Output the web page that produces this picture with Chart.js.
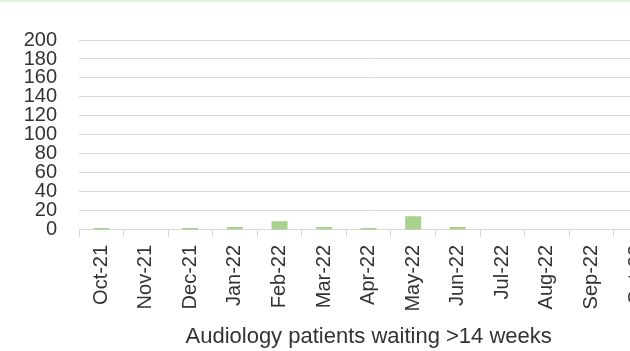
<!DOCTYPE html>
<html>
<head>
<meta charset="utf-8">
<script src="https://cdn.jsdelivr.net/npm/chart.js@4"></script>
<style>
  html, body { margin: 0; padding: 0; overflow: hidden; background: #fff; }
  .topLine { position: absolute; left: 0; top: 0; width: 630px; height: 2px; background: #e2efda; z-index: 2; }
  .wrap { position: relative; width: 668px; height: 351px; }
</style>
</head>
<body>
<div class="topLine"></div>
<div class="wrap"><canvas id="audiologyChart"></canvas></div>
<script>
const months = [
  "Oct-21", "Nov-21", "Dec-21", "Jan-22", "Feb-22", "Mar-22", "Apr-22",
  "May-22", "Jun-22", "Jul-22", "Aug-22", "Sep-22", "Oct-22",
];
const waitingOver14 = [2, 0, 2, 3, 9, 3, 2, 14.5, 3, 0, 0, 0, 0];
const yTicks = [0, 20, 40, 60, 80, 100, 120, 140, 160, 180, 200];

const tickFont = { family: "'Liberation Sans', Arial, sans-serif", size: 20 };
const titleFont = { family: "'Liberation Sans', Arial, sans-serif", size: 22 };

document.addEventListener("DOMContentLoaded", function () {
  const ctx = document.getElementById("audiologyChart");

  new Chart(ctx, {
    type: "bar",
    data: {
      labels: months,
      datasets: [
        {
          label: "Audiology patients waiting >14 weeks",
          data: waitingOver14,
          backgroundColor: "#a9d18e",
          borderWidth: 0,
          categoryPercentage: 1.0,
          barPercentage: 0.36,
        },
      ],
    },
    options: {
      responsive: true,
      maintainAspectRatio: false,
      animation: false,
      layout: { padding: { top: 40, left: 0, right: 0, bottom: 1 } },
      plugins: {
        legend: { display: false },
        tooltip: { enabled: false },
      },
      scales: {
        y: {
          min: 0,
          max: 200,
          afterBuildTicks: function (axis) {
            axis.ticks = yTicks.map((v) => ({ value: v }));
          },
          afterFit: function (axis) {
            axis.width = 79;
          },
          border: { display: false },
          grid: {
            color: "#d9d9d9",
            lineWidth: 1,
            drawTicks: false,
          },
          ticks: {
            font: tickFont,
            color: "#333",
            padding: 22,
            autoSkip: false,
          },
        },
        x: {
          offset: true,
          border: { display: true, color: "#d9d9d9" },
          grid: {
            offset: true,
            drawOnChartArea: false,
            drawTicks: true,
            tickLength: 7,
            color: "#d9d9d9",
          },
          ticks: {
            font: tickFont,
            color: "#333",
            minRotation: 90,
            maxRotation: 90,
            autoSkip: false,
            padding: 8,
          },
          title: {
            display: true,
            text: "Audiology patients waiting >14 weeks",
            font: titleFont,
            color: "#333",
            padding: { top: 4, bottom: 0 },
          },
        },
      },
    },
  });
});
</script>
</body>
</html>
